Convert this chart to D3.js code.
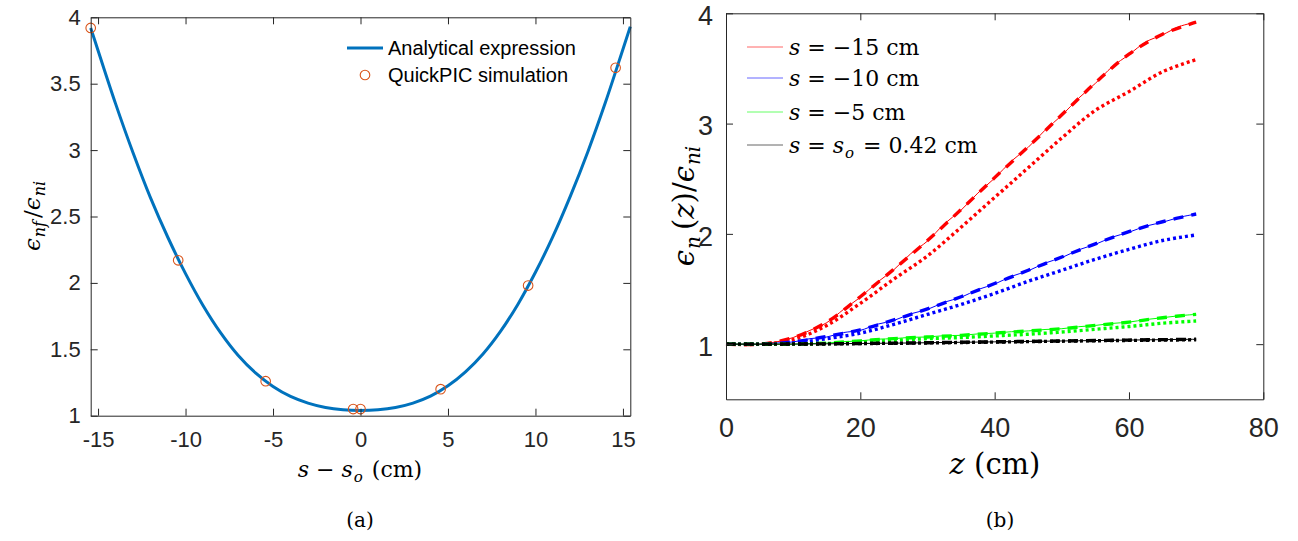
<!DOCTYPE html>
<html><head><meta charset="utf-8">
<script src="https://cdn.jsdelivr.net/npm/d3@7"></script>
<style>
body{margin:0;background:#fff;}
svg{display:block;}
</style>
</head><body>
<svg id="c" width="1298" height="541"></svg>
<script>
// ---------- Panel (a) data ----------
const curveX = [-15.42,-15,-14,-13,-12,-11,-10,-9,-8,-7,-6,-5,-4,-3,-2,-1,0,1,2,3,4,5,6,7,8,9,10,11,12,13,14,15,15.42];
const curveY = [3.92,3.75,3.35,2.98,2.64,2.34,2.07,1.83,1.625,1.455,1.322,1.22,1.145,1.095,1.062,1.045,1.04,1.045,1.062,1.095,1.147,1.225,1.33,1.465,1.635,1.84,2.08,2.35,2.655,2.99,3.36,3.76,3.93];
const simX = [-15.42,-10.42,-5.42,-0.42,0,4.58,9.58,14.58];
const simY = [3.92,2.17,1.26,1.05,1.05,1.20,1.98,3.62];
const aXTicks = [-15,-10,-5,0,5,10,15];
const aYTicks = [1,1.5,2,2.5,3,3.5,4];

// ---------- Panel (b) data ----------
const zGrid = [0,5,10,15,20,25,30,35,40,45,50,55,60,65,70];
const redDashed   = [1.00,1.00,1.06,1.20,1.43,1.68,1.94,2.22,2.51,2.79,3.08,3.37,3.63,3.81,3.92];
const redDotted   = [1.00,1.00,1.04,1.17,1.37,1.59,1.80,2.06,2.33,2.60,2.87,3.12,3.29,3.47,3.58];
const blueDashed  = [1.00,1.00,1.02,1.07,1.13,1.22,1.32,1.43,1.55,1.67,1.79,1.91,2.02,2.11,2.18];
const blueDotted  = [1.00,1.00,1.01,1.05,1.10,1.18,1.27,1.36,1.46,1.57,1.67,1.77,1.86,1.94,1.99];
const greenDashed = [1.00,1.00,1.00,1.01,1.03,1.05,1.065,1.08,1.10,1.12,1.14,1.17,1.20,1.24,1.27];
const greenDotted = [1.00,1.00,1.00,1.005,1.02,1.035,1.05,1.06,1.075,1.09,1.11,1.135,1.16,1.19,1.21];
const blackDashed = [1.00,1.00,1.001,1.003,1.006,1.009,1.013,1.017,1.021,1.025,1.029,1.033,1.037,1.041,1.044];
const blackDotted = [1.00,1.00,1.001,1.002,1.005,1.008,1.011,1.015,1.019,1.023,1.027,1.031,1.034,1.037,1.040];

const zFine = [0,2.5,5,7.5,10,12.5,15,17.5,20,22.5,25,27.5,30,32.5,35,37.5,40,42.5,45,47.5,50,52.5,55,57.5,60,62.5,65,67.5,70];
const redSolid   = [1.00,1.00,1.00,1.02,1.06,1.125,1.195,1.315,1.425,1.56,1.675,1.82,1.935,2.09,2.215,2.37,2.505,2.66,2.785,2.94,3.075,3.23,3.365,3.515,3.625,3.74,3.805,3.88,3.92];
const blueSolid  = [1.00,1.00,1.00,1.01,1.02,1.05,1.065,1.105,1.125,1.18,1.215,1.275,1.315,1.38,1.425,1.495,1.545,1.615,1.665,1.735,1.785,1.855,1.905,1.97,2.015,2.07,2.105,2.15,2.18];
const greenSolid = [1.00,1.00,1.00,1.00,1.00,1.005,1.01,1.022,1.03,1.045,1.05,1.062,1.065,1.077,1.08,1.093,1.10,1.113,1.12,1.133,1.14,1.158,1.17,1.188,1.20,1.223,1.24,1.258,1.27];
const blackSolid = [1.00,1.00,1.00,1.00,1.001,1.002,1.003,1.005,1.006,1.008,1.009,1.011,1.013,1.015,1.017,1.019,1.021,1.023,1.025,1.027,1.029,1.031,1.033,1.035,1.037,1.039,1.041,1.043,1.044];
const bXTicks = [0,20,40,60,80];
const bYTicks = [1,2,3,4];

const legendB = [
  {color:"#ff0000", post:" = −15 cm"},
  {color:"#0000ff", post:" = −10 cm"},
  {color:"#00ff00", post:" = −5 cm"},
  {color:"#000000", post:" = ", so:true, post2:" = 0.42 cm"}
];

// ---------- drawing ----------
const svg = d3.select("#c");
svg.append("rect").attr("width",1298).attr("height",541).attr("fill","#fff");
const axisColor = "#262626";
const sans = "'Liberation Sans', Arial, sans-serif";
const serif = "'DejaVu Serif', 'Liberation Serif', serif";

function frame(g, x, y, xt, yt, fs, pad) {
  const [x0,x1] = x.range(), [y0,y1] = y.range();
  const fmt = d => String(d);
  const bx = g.append("g").attr("transform",`translate(0,${y0})`)
    .call(d3.axisBottom(x).tickValues(xt).tickFormat(fmt).tickSizeInner(-7).tickSizeOuter(0).tickPadding(pad));
  const tx = g.append("g").attr("transform",`translate(0,${y1})`)
    .call(d3.axisTop(x).tickValues(xt).tickFormat("").tickSizeInner(-7).tickSizeOuter(0));
  const ly = g.append("g").attr("transform",`translate(${x0},0)`)
    .call(d3.axisLeft(y).tickValues(yt).tickFormat(fmt).tickSizeInner(-7).tickSizeOuter(0).tickPadding(pad));
  const ry = g.append("g").attr("transform",`translate(${x1},0)`)
    .call(d3.axisRight(y).tickValues(yt).tickFormat("").tickSizeInner(-7).tickSizeOuter(0));
  [bx,tx,ly,ry].forEach(a=>{
    a.selectAll("path,line").attr("stroke",axisColor).attr("stroke-width",1);
    a.selectAll("text").attr("font-family",sans).attr("font-size",fs).attr("fill",axisColor);
  });
  return {bx,ly};
}

// helper: math text pieces
function mathText(t, parts, subFs, shift, gap) {
  parts.forEach(p=>{
    const [txt, kind] = p;
    const ts = t.append("tspan").text(txt);
    if (kind === "i") ts.attr("font-style","italic");
    if (kind === "sub") ts.attr("font-style","italic").attr("font-size",subFs).attr("dy",shift).attr("dx",1);
    if (kind === "r_after") ts.attr("dy",-shift).attr("dx",gap);
  });
}

// Panel (a)
const xA = d3.scaleLinear().domain([-15.42,15.42]).range([90.7,630.3]);
const yA = d3.scaleLinear().domain([1,4]).range([415.7,17.3]);
const gA = svg.append("g");
const curveData = curveX.map((v,i)=>[v,curveY[i]]);
gA.append("path").datum(curveData)
  .attr("d", d3.line().x(d=>xA(d[0])).y(d=>yA(d[1])).curve(d3.curveCatmullRom))
  .attr("fill","none").attr("stroke","#0072BD").attr("stroke-width",3);
gA.selectAll("circle.sim").data(simX.map((v,i)=>[v,simY[i]])).enter().append("circle")
  .attr("cx",d=>xA(d[0])).attr("cy",d=>yA(d[1])).attr("r",4.8)
  .attr("fill","none").attr("stroke","#D95319").attr("stroke-width",1.1);
const fa = frame(gA, xA, yA, aXTicks, aYTicks, 22, 10);
fa.bx.selectAll("text").attr("dy","0.95em");

// legend (a)
const lgA = gA.append("g");
lgA.append("line").attr("x1",347).attr("x2",383).attr("y1",48).attr("y2",48).attr("stroke","#0072BD").attr("stroke-width",3);
lgA.append("text").attr("x",388).attr("y",55).text("Analytical expression").attr("font-family",sans).attr("font-size",20).attr("fill","#000");
lgA.append("circle").attr("cx",365).attr("cy",75).attr("r",4.8).attr("fill","none").attr("stroke","#D95319").attr("stroke-width",1.1);
lgA.append("text").attr("x",388).attr("y",82).text("QuickPIC simulation").attr("font-family",sans).attr("font-size",20).attr("fill","#000");

// axis labels (a)
const xlA = gA.append("text").attr("x",360).attr("y",477).attr("text-anchor","middle")
  .attr("font-family",serif).attr("font-size",22).attr("fill","#000");
mathText(xlA, [["s","i"],[" − ","r"],["s","i"],["o","sub"],[" (cm)","r_after"]], 15, 5, 2);

const ylA = gA.append("text").attr("transform","translate(40,216) rotate(-90)").attr("text-anchor","middle")
  .attr("font-family",serif).attr("font-size",23).attr("fill","#000");
mathText(ylA, [["ϵ","i"],["nf","sub"],["/","r_after"],["ϵ","i"],["ni","sub"]], 16, 5, 3);

gA.append("text").attr("x",360).attr("y",527).attr("text-anchor","middle").attr("font-family",serif).attr("font-size",20).text("(a)");

// Panel (b)
const xB = d3.scaleLinear().domain([0,80]).range([726,1263.3]);
const yB = d3.scaleLinear().domain([0.5,4]).range([399.3,13.3]);
const gB = svg.append("g");
const lineB = d3.line().x(d=>xB(d[0])).y(d=>yB(d[1])).curve(d3.curveCatmullRom);
const series = [
  {c:"#ff0000", dash:redDashed, dot:redDotted, solid:redSolid},
  {c:"#0000ff", dash:blueDashed, dot:blueDotted, solid:blueSolid},
  {c:"#00ff00", dash:greenDashed, dot:greenDotted, solid:greenSolid},
  {c:"#000000", dash:blackDashed, dot:blackDotted, solid:blackSolid}
];
series.forEach(s=>{
  gB.append("path").datum(zGrid.map((z,i)=>[z,s.dot[i]])).attr("d",lineB)
    .attr("fill","none").attr("stroke",s.c).attr("stroke-width",3.4).attr("stroke-dasharray","3,3");
  gB.append("path").datum(zGrid.map((z,i)=>[z,s.dash[i]])).attr("d",lineB)
    .attr("fill","none").attr("stroke",s.c).attr("stroke-width",3.4).attr("stroke-dasharray","10,8");
  gB.append("path").datum(zFine.map((z,i)=>[z,s.solid[i]])).attr("d",lineB)
    .attr("fill","none").attr("stroke",s.c).attr("stroke-width",1);
});
const fb = frame(gB, xB, yB, bXTicks, bYTicks, 27, 13);
fb.bx.selectAll("text").attr("dy","0.9em");
fb.ly.selectAll("text").attr("dy","0.42em");

// legend (b)
const rowsY = [47,78,112,145];
legendB.forEach((d,i)=>{
  const y = rowsY[i];
  gB.append("line").attr("x1",747).attr("x2",783).attr("y1",y).attr("y2",y).attr("stroke",d.color).attr("stroke-width",1).attr("stroke-opacity",0.6);
  const t = gB.append("text").attr("x",789).attr("y",y+8).attr("font-family",serif).attr("font-size",22).attr("fill","#000");
  if (d.so) mathText(t, [["s","i"],[d.post,"r"],["s","i"],["o","sub"],[d.post2,"r_after"]], 15, 5, 2);
  else mathText(t, [["s","i"],[d.post,"r"]], 15, 5, 2);
});

const xlB = gB.append("text").attr("x",995).attr("y",474).attr("text-anchor","middle")
  .attr("font-family",serif).attr("font-size",29).attr("fill","#000");
mathText(xlB, [["z","i"],[" (cm)","r"]], 20, 6, 2);

const ylB = gB.append("text").attr("transform","translate(694,206) rotate(-90)").attr("text-anchor","middle")
  .attr("font-family",serif).attr("font-size",29).attr("fill","#000");
mathText(ylB, [["ϵ","i"],["n","sub"],["(","r_after"],["z","i"],[")/","r"],["ϵ","i"],["ni","sub"]], 20, 6, 6);

gB.append("text").attr("x",1000).attr("y",527).attr("text-anchor","middle").attr("font-family",serif).attr("font-size",20).text("(b)");
</script>
</body></html>
